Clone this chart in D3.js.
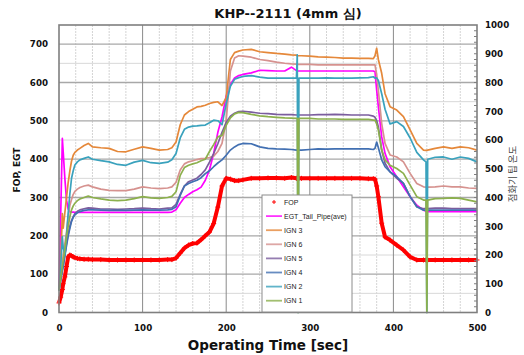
<!DOCTYPE html>
<html>
<head>
<meta charset="utf-8">
<script src="https://d3js.org/d3.v7.min.js"></script>
<style>
  body { margin: 0; background: #fff; }
  svg { display: block; }
</style>
</head>
<body>
<div id="chart"></div>
<script>

// sample times [sec]
var time = [0,2,4,5,7,9,11,13,15,17, 19,22,25,30,35,40,50,60,70,80,
  90,100,110,120,130,135,140,145,150,155, 160,165,170,175,180,185,190,195,200,205,
  210,215,220,230,240,250,260,270,278,284, 285,286,287,290,300,310,320,330,340,350,
  360,370,376,378,380,382,386,390,396,404, 412,420,428,436,439,440,441,450,460,470,
  480,490,500];

// left axis (FOP, EGT)
var fop = [25,40,60,75,93,120,145,150,148,145, 143,141,140,139,139,138,138,137,137,137,
  137,137,137,137,138,138,142,155,168,176, 180,181,190,200,210,232,275,330,350,348,
  344,344,346,350,350,351,351,350,352,350, 350,350,350,350,350,350,350,350,350,350,
  350,349,349,348,330,302,233,197,189,176, 163,145,137,137,137,137,137,137,137,137,
  137,137,137];

var egt = [60,250,454,420,350,293,270,263,262,262, 261,261,261,261,261,261,261,261,261,261,
  261,261,261,261,261,262,268,285,300,308, 315,320,327,345,372,415,470,510,565,595,
  612,618,621,625,632,631,630,630,640,631, 630,630,630,630,630,630,630,630,630,630,
  630,630,630,628,580,537,458,415,380,354, 328,302,280,267,264,263,263,263,263,263,
  263,263,263];

// right axis (igniter tip temperature)
var ign3 = [77,173,344,293,347,400,453,493,527,547, 557,565,571,581,588,576,573,571,560,559,
  568,576,571,565,567,573,593,653,687,699, 707,715,717,721,727,731,733,720,747,880,
  904,909,913,915,907,904,901,899,896,895, 893,893,893,893,892,889,888,887,885,885,
  884,884,883,893,919,880,832,761,716,704, 681,635,588,565,564,564,565,571,576,571,
  576,573,565];

var ign6 = [77,120,173,200,240,280,333,373,393,411, 421,429,435,440,443,437,429,425,424,424,
  429,437,433,431,433,437,453,496,517,524, 528,532,535,536,539,544,560,588,667,840,
  885,893,892,888,880,876,871,867,865,864, 864,863,863,863,863,861,861,861,861,861,
  861,861,861,861,827,773,657,588,548,541, 524,484,449,437,436,436,436,437,440,437,
  437,433,432];

var ign5 = [77,113,147,160,200,240,273,300,320,333, 344,352,357,361,364,363,360,360,359,360,
  361,363,361,360,363,364,376,411,440,455, 461,467,480,496,523,553,587,627,661,683,
  693,699,700,697,693,692,689,688,688,687, 687,687,687,687,687,688,688,689,688,687,
  687,687,683,679,667,645,565,519,489,467, 449,403,368,361,361,361,361,363,363,361,
  361,361,361];

var ign4 = [77,113,147,160,197,233,267,293,317,331, 340,347,351,355,357,357,356,355,355,355,
  356,357,356,356,357,359,368,407,440,449, 455,460,469,483,493,507,520,531,547,565,
  576,584,588,587,576,571,569,568,567,565, 565,565,565,565,567,569,568,569,569,569,
  569,569,567,571,593,573,531,507,489,472, 449,403,368,356,356,356,356,356,356,356,
  356,356,356];

var ign2 = [77,160,263,227,200,267,347,413,467,493, 513,524,531,536,541,533,528,524,515,512,
  523,529,521,519,523,531,553,607,637,645, 648,649,651,652,660,669,667,653,727,787,
  811,817,821,824,819,815,815,815,815,815, 896,0,815,815,815,815,816,815,815,815,
  816,817,820,815,816,807,761,707,656,664, 647,607,557,531,524,0,533,540,541,533,
  541,536,524];

var ign1 = [77,120,160,180,220,263,300,333,357,371, 380,389,395,400,405,400,395,391,389,391,
  396,403,399,397,400,404,420,477,504,512, 517,521,528,533,560,584,611,616,651,677,
  691,696,695,689,684,681,679,677,676,675, 675,0,675,675,675,673,673,673,672,672,
  672,672,669,669,656,635,565,531,512,501, 484,443,403,391,391,0,391,396,397,399,
  397,391,385];

var xTicks = [0,100,200,300,400,500];
var leftTicks = [0,100,200,300,400,500,600,700];
var rightTicks = [0,100,200,300,400,500,600,700,800,900,1000];

var series = [
  {name: "FOP", values: fop, axis: "left", color: "#ff0000", marker: true},
  {name: "EGT_Tail_Pipe(ave)", values: egt, axis: "left", color: "#ff00ff"},
  {name: "IGN 3", values: ign3, axis: "right", color: "#e5883a"},
  {name: "IGN 6", values: ign6, axis: "right", color: "#d6928f"},
  {name: "IGN 5", values: ign5, axis: "right", color: "#7b5d9e"},
  {name: "IGN 4", values: ign4, axis: "right", color: "#4270b2"},
  {name: "IGN 2", values: ign2, axis: "right", color: "#3aa2bd"},
  {name: "IGN 1", values: ign1, axis: "right", color: "#8cb04d"}
];

var w = 524, h = 355;
var pLeft = 59, pRight = 477, pTop = 25, pBottom = 312.5;
var boldFont = "'DejaVu Sans', Verdana, sans-serif";

var svg = d3.select("#chart").append("svg")
  .attr("width", w)
  .attr("height", h);

var x = d3.scaleLinear().domain([0, 500]).range([pLeft, pRight]);
var yL = d3.scaleLinear().domain([0, 750]).range([pBottom, pTop]);
var yR = d3.scaleLinear().domain([0, 1000]).range([pBottom, pTop]);

// grid
var grid = svg.append("g");
grid.selectAll(".vminor")
  .data(d3.range(20, 500, 20).filter(function(d) { return d % 100 != 0; }))
  .enter().append("line")
  .attr("x1", function(d) { return x(d); })
  .attr("x2", function(d) { return x(d); })
  .attr("y1", pTop).attr("y2", pBottom)
  .attr("stroke", "#d4d4d4")
  .attr("stroke-dasharray", "2,1");
grid.selectAll(".hminor")
  .data(d3.range(50, 750, 100))
  .enter().append("line")
  .attr("x1", pLeft).attr("x2", pRight)
  .attr("y1", function(d) { return yL(d); })
  .attr("y2", function(d) { return yL(d); })
  .attr("stroke", "#d8d8d8");
grid.selectAll(".hmajor")
  .data(leftTicks.slice(1))
  .enter().append("line")
  .attr("x1", pLeft).attr("x2", pRight)
  .attr("y1", function(d) { return yL(d); })
  .attr("y2", function(d) { return yL(d); })
  .attr("stroke", "#a8a8a8")
  .attr("stroke-width", 1.3);
grid.selectAll(".vmajor")
  .data([100, 200, 300, 400])
  .enter().append("line")
  .attr("x1", function(d) { return x(d); })
  .attr("x2", function(d) { return x(d); })
  .attr("y1", pTop).attr("y2", pBottom)
  .attr("stroke", "#8a8a8a")
  .attr("stroke-width", 1);

// lines
series.forEach(function(s) {
  var y = s.axis == "left" ? yL : yR;
  var line = d3.line()
    .x(function(d, i) { return x(time[i]); })
    .y(function(d) { return y(d); });
  svg.append("path")
    .datum(s.values)
    .attr("fill", "none")
    .attr("stroke", s.color)
    .attr("stroke-width", s.marker ? 4 : 1.7)
    .attr("stroke-linejoin", "round")
    .attr("d", line);
  if (s.marker) {
    svg.append("g").selectAll("path")
      .data(s.values)
      .enter().append("path")
      .attr("d", "M-2.5,0H2.5M0,-2.5V2.5")
      .attr("transform", function(d, i) { return "translate(" + x(time[i]) + "," + y(d) + ")"; })
      .attr("stroke", s.color)
      .attr("stroke-width", 1);
  }
});

// frame
svg.append("rect")
  .attr("x", pLeft).attr("y", pTop)
  .attr("width", pRight - pLeft).attr("height", pBottom - pTop)
  .attr("fill", "none")
  .attr("stroke", "#7f7f7f")
  .attr("stroke-width", 1.6);

// right minor ticks
svg.selectAll(".rtick")
  .data(d3.range(20, 1000, 20))
  .enter().append("line")
  .attr("x1", pRight - 3).attr("x2", pRight)
  .attr("y1", function(d) { return yR(d); })
  .attr("y2", function(d) { return yR(d); })
  .attr("stroke", "#7f7f7f");

// axes
var axL = svg.append("g")
  .attr("transform", "translate(" + pLeft + ",0)")
  .call(d3.axisLeft(yL).tickValues(leftTicks).tickSize(0).tickPadding(11).tickFormat(d3.format("d")));
var axR = svg.append("g")
  .attr("transform", "translate(" + pRight + ",0)")
  .call(d3.axisRight(yR).tickValues(rightTicks).tickSize(0).tickPadding(8).tickFormat(d3.format("d")));
var axB = svg.append("g")
  .attr("transform", "translate(0," + pBottom + ")")
  .call(d3.axisBottom(x).tickValues(xTicks).tickSize(0).tickPadding(12).tickFormat(d3.format("d")));
[axL, axR, axB].forEach(function(a) {
  a.select(".domain").remove();
  a.selectAll("text")
    .attr("font-family", boldFont)
    .attr("font-weight", "bold")
    .attr("font-size", "8.7px")
    .attr("fill", "#111");
});

// titles
svg.append("text")
  .attr("x", 288).attr("y", 18)
  .attr("text-anchor", "middle")
  .attr("font-family", boldFont)
  .attr("font-weight", "bold")
  .attr("font-size", "13px")
  .attr("fill", "#111")
  .text("KHP--2111 (4mm 심)");

svg.append("text")
  .attr("x", 268).attr("y", 350)
  .attr("text-anchor", "middle")
  .attr("font-family", boldFont)
  .attr("font-weight", "bold")
  .attr("font-size", "13.5px")
  .attr("fill", "#111")
  .text("Operating Time [sec]");

svg.append("text")
  .attr("transform", "translate(20,170) rotate(-90)")
  .attr("text-anchor", "middle")
  .attr("font-family", boldFont)
  .attr("font-weight", "bold")
  .attr("font-size", "9px")
  .attr("fill", "#111")
  .text("FOP, EGT");

svg.append("text")
  .attr("transform", "translate(516,174) rotate(-90)")
  .attr("text-anchor", "middle")
  .attr("font-family", "'Noto Sans CJK KR', sans-serif")
  .attr("font-size", "9.5px")
  .attr("fill", "#444")
  .text("점화기 팁 온도");

// legend
var lg = svg.append("g").attr("transform", "translate(262,195)");
lg.append("rect")
  .attr("width", 90).attr("height", 117)
  .attr("fill", "#fff")
  .attr("stroke", "#8c8c8c");
var item = lg.selectAll(".item")
  .data(series)
  .enter().append("g")
  .attr("transform", function(d, i) { return "translate(0," + (7 + i * 14.1) + ")"; });
item.append("line")
  .attr("x1", 4).attr("x2", 20)
  .attr("stroke", function(d) { return d.marker ? "none" : d.color; })
  .attr("stroke-width", 1.8)
  .attr("opacity", 0.8);
item.filter(function(d) { return d.marker; })
  .append("path")
  .attr("d", "M-2,0H2M0,-2V2")
  .attr("transform", "translate(12,0)")
  .attr("stroke", function(d) { return d.color; });
item.append("text")
  .attr("x", 22).attr("y", 2.5)
  .attr("font-family", "'Liberation Sans', Arial, sans-serif")
  .attr("font-size", "7px")
  .attr("fill", "#222")
  .text(function(d) { return d.name; });

</script>
</body>
</html>
